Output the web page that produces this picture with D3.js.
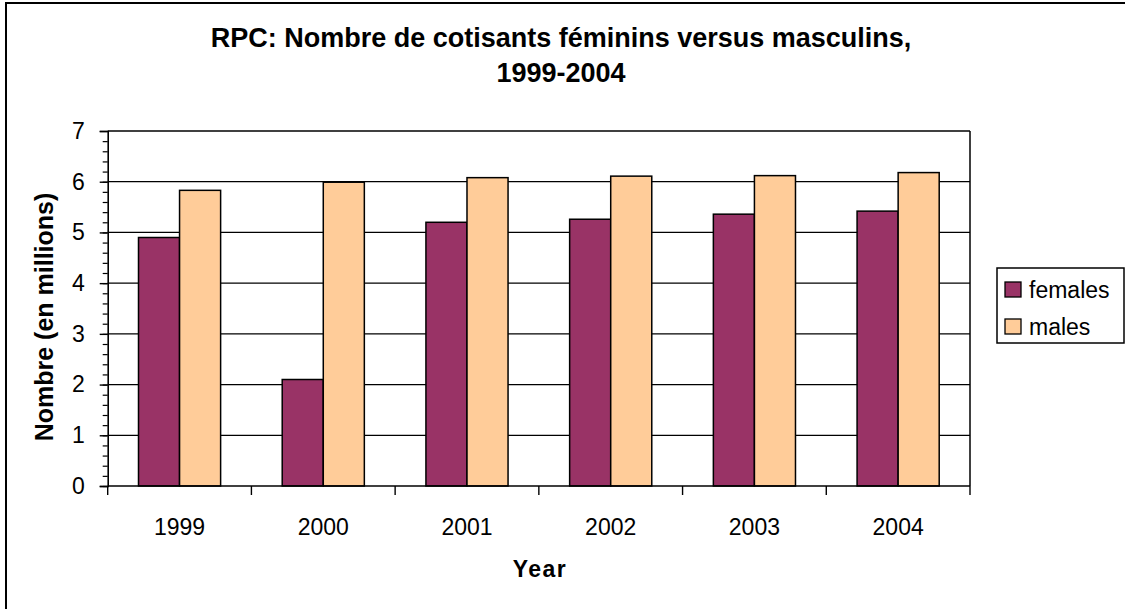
<!DOCTYPE html>
<html>
<head>
<meta charset="utf-8">
<script src="https://cdn.jsdelivr.net/npm/d3@7"></script>
<style>
  body { margin: 0; background: #fff; }
  svg { display: block; font-family: "Liberation Sans", Arial, sans-serif; }
  .tick text { font-size: 23px; fill: #000; }
</style>
</head>
<body>
<svg id="chart" width="1125" height="609"></svg>
<script>
const years = ["1999", "2000", "2001", "2002", "2003", "2004"];
const series = ["females", "males"];
const females = [4.9, 2.1, 5.2, 5.26, 5.36, 5.42];
const males = [5.83, 5.99, 6.08, 6.11, 6.12, 6.18];
const yTicks = [0, 1, 2, 3, 4, 5, 6, 7];
const colors = { females: "#993366", males: "#FFCC99" };

const svg = d3.select("#chart");
const m = { left: 107.7, right: 970, top: 131, bottom: 486 };

// outer frame (only left/top edges fall inside the picture)
svg.append("rect")
  .attr("x", 6).attr("y", 3)
  .attr("width", 1140).attr("height", 640)
  .attr("fill", "#fff")
  .attr("stroke", "#000")
  .attr("stroke-width", 2);

const x0 = d3.scaleBand().domain(years).range([m.left, m.right]).padding(0);
const x1 = d3.scaleBand().domain(series).range([0, x0.bandwidth()])
  .paddingInner(0).paddingOuter(0.75);
const y = d3.scaleLinear().domain([0, 7]).range([m.bottom, m.top]);

// gridlines
svg.append("g")
  .selectAll("line")
  .data(yTicks.filter((d) => d > 0))
  .join("line")
  .attr("x1", m.left).attr("x2", m.right)
  .attr("y1", (d) => y(d)).attr("y2", (d) => y(d))
  .attr("stroke", "#000")
  .attr("stroke-width", 1.3);

// right edge of plot area
svg.append("line")
  .attr("x1", m.right).attr("x2", m.right)
  .attr("y1", m.top).attr("y2", m.bottom)
  .attr("stroke", "#000").attr("stroke-width", 1.5);

// bars
const rows = years.map((yr, i) => ({ year: yr, females: females[i], males: males[i] }));
svg.append("g")
  .selectAll("g")
  .data(rows)
  .join("g")
  .attr("transform", (d) => `translate(${x0(d.year)},0)`)
  .selectAll("rect")
  .data((d) => series.map((s) => ({ key: s, val: d[s] })))
  .join("rect")
  .attr("x", (d) => x1(d.key))
  .attr("width", x1.bandwidth())
  .attr("y", (d) => y(d.val))
  .attr("height", (d) => y(0) - y(d.val))
  .attr("fill", (d) => colors[d.key])
  .attr("stroke", "#000")
  .attr("stroke-width", 1.5);

// y axis: minor ticks then major ticks with labels
svg.append("g")
  .attr("transform", `translate(${m.left},0)`)
  .call(d3.axisLeft(y).tickValues(d3.range(0, 35).map((i) => i / 5)).tickSize(5).tickFormat(""))
  .call((g) => g.select(".domain").remove())
  .call((g) => g.selectAll("line").attr("stroke", "#000").attr("stroke-width", 1.2));

const yAxis = svg.append("g")
  .attr("transform", `translate(${m.left},0)`)
  .call(d3.axisLeft(y).tickValues(yTicks).tickSize(8).tickPadding(15).tickFormat(d3.format("d")));
yAxis.select(".domain").attr("stroke", "#000").attr("stroke-width", 1.6);
yAxis.selectAll("line").attr("stroke", "#000").attr("stroke-width", 1.4);
yAxis.selectAll("text").attr("font-family", null).attr("font-size", null);

// x axis: baseline, boundary ticks, centred labels
svg.append("line")
  .attr("x1", m.left).attr("x2", m.right)
  .attr("y1", m.bottom).attr("y2", m.bottom)
  .attr("stroke", "#000").attr("stroke-width", 1.6);
svg.append("g")
  .selectAll("line")
  .data(d3.range(years.length + 1))
  .join("line")
  .attr("x1", (i) => m.left + i * x0.step())
  .attr("x2", (i) => m.left + i * x0.step())
  .attr("y1", m.bottom).attr("y2", m.bottom + 9)
  .attr("stroke", "#000").attr("stroke-width", 1.4);
svg.append("g")
  .selectAll("text")
  .data(years)
  .join("text")
  .attr("x", (d) => x0(d) + x0.bandwidth() / 2)
  .attr("y", 535)
  .attr("text-anchor", "middle")
  .attr("font-size", 23)
  .text((d) => d);

// titles
const title = svg.append("text")
  .attr("text-anchor", "middle")
  .attr("font-size", 27)
  .attr("font-weight", "bold");
title.append("tspan").attr("x", 561).attr("y", 47)
  .text("RPC: Nombre de cotisants féminins versus masculins,");
title.append("tspan").attr("x", 561).attr("y", 82).text("1999-2004");

svg.append("text")
  .attr("x", 540).attr("y", 577)
  .attr("text-anchor", "middle")
  .attr("font-size", 23)
  .attr("font-weight", "bold")
  .attr("letter-spacing", 1.5)
  .text("Year");

svg.append("text")
  .attr("transform", "translate(53,317) rotate(-90)")
  .attr("text-anchor", "middle")
  .attr("font-size", 25)
  .attr("font-weight", "bold")
  .text("Nombre (en millions)");

// legend
const lg = svg.append("g").attr("transform", "translate(997,268)");
lg.append("rect")
  .attr("width", 127).attr("height", 75)
  .attr("fill", "#fff").attr("stroke", "#000").attr("stroke-width", 1.5);
lg.selectAll("g.item")
  .data(series)
  .join("g")
  .attr("class", "item")
  .attr("transform", (d, i) => `translate(8,${14 + i * 37})`)
  .call((g) => g.append("rect")
    .attr("width", 16).attr("height", 15)
    .attr("fill", (d) => colors[d])
    .attr("stroke", "#000").attr("stroke-width", 1.3))
  .call((g) => g.append("text")
    .attr("x", 24).attr("y", 15.5)
    .attr("font-size", 23)
    .text((d) => d));
</script>
</body>
</html>
